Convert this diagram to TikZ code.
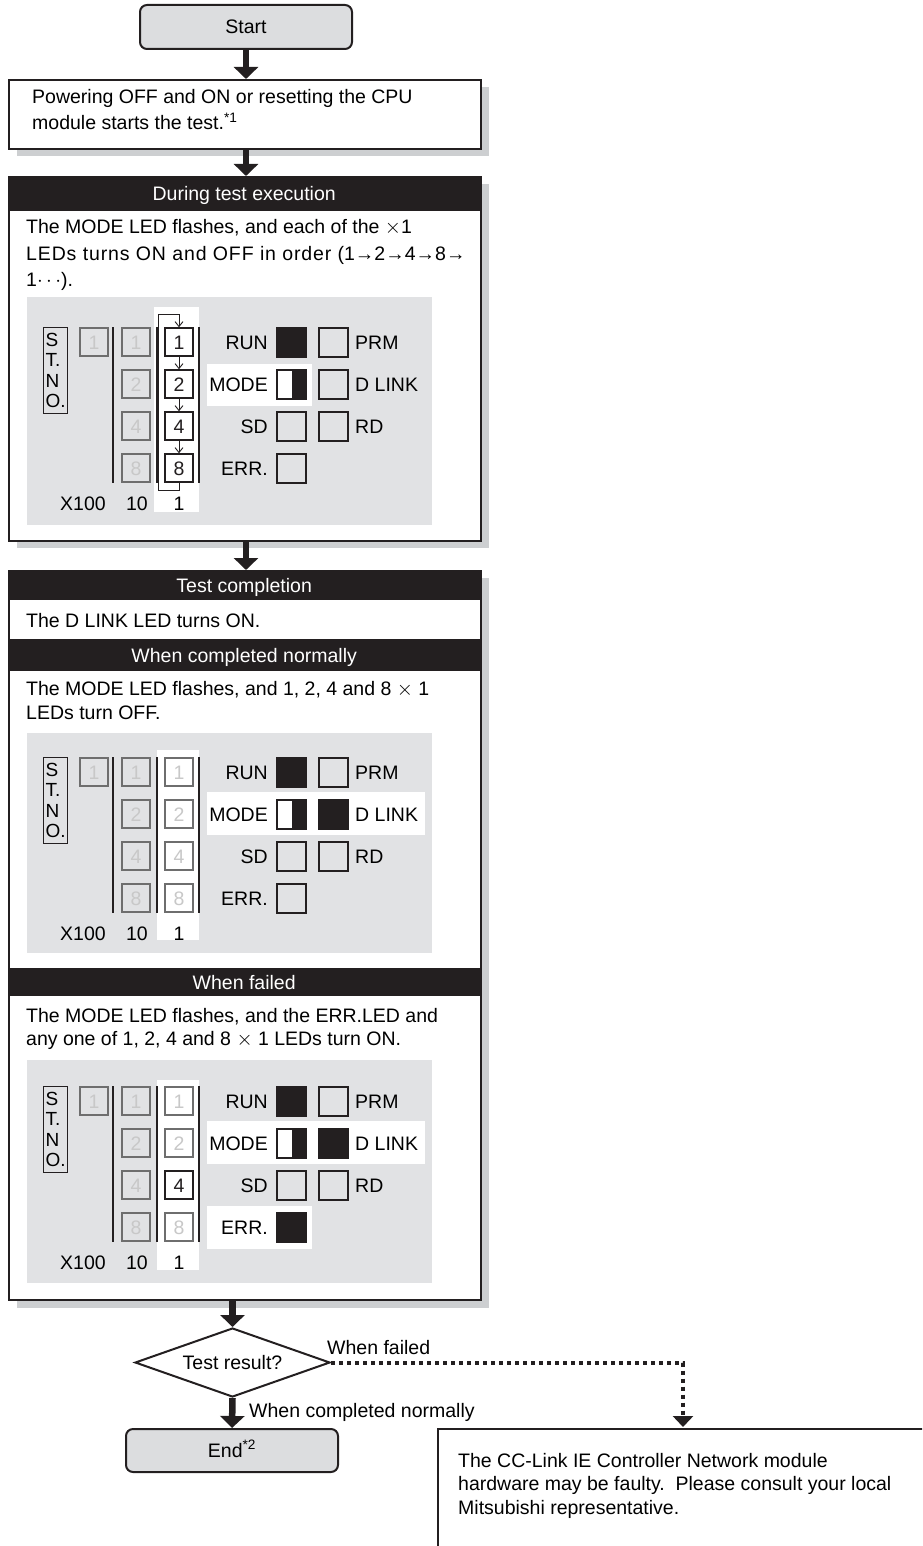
\documentclass[tikz,border=0pt]{standalone}
\usepackage{fontspec}
\setmainfont{Liberation Sans}
\usetikzlibrary{arrows.meta,shapes.geometric}
\definecolor{ink}{HTML}{231F20}
\definecolor{panelgray}{HTML}{E1E2E4}
\definecolor{boxgray}{HTML}{DCDDDF}
\definecolor{shadowgray}{HTML}{CDCFD1}
\definecolor{dimline}{HTML}{6E6E6E}
\definecolor{dimtext}{HTML}{C8C8C8}

\newcommand\panelcore[1]{%
  \node[draw=ink,line width=1.2pt,minimum width=24pt,minimum height=86pt,inner sep=0pt,anchor=north west,align=left,font=\fontsize{19}{20.5}\selectfont] (#1-stno) at (43,-1) {S\\T.\\N\\O.};
  \node[dimled] (#1-h1) at (94,14) {1};
  \node[dimled] (#1-t1) at (136,14) {1};
  \node[dimled] (#1-t2) at (136,56) {2};
  \node[dimled] (#1-t4) at (136,98) {4};
  \node[dimled] (#1-t8) at (136,140) {8};
  \draw[vline] (113,-1) -- (113,155) (157,-1) -- (157,155) (199,-1) -- (199,155);
  \node[lbl] (#1-x100) at (83,182) {X100};
  \node[lbl] (#1-x10) at (137,182) {10};
  \node[lbl] (#1-x1) at (179,182) {1};
  \node[lbl,anchor=base east] (#1-run) at (268,21) {RUN};
  \node[lbl,anchor=base east] (#1-mode) at (268,63) {MODE};
  \node[lbl,anchor=base east] (#1-sd) at (268,105) {SD};
  \node[lbl,anchor=base east] (#1-err) at (268,147) {ERR.};
  \node[lbl,anchor=base west] (#1-prm) at (355,21) {PRM};
  \node[lbl,anchor=base west] (#1-dl) at (355,63) {D LINK};
  \node[lbl,anchor=base west] (#1-rd) at (355,105) {RD};
  \node[ledon] (#1-runsq) at (291.5,14.5) {};
  \node[ledsq,halfon] (#1-modesq) at (291.5,56.5) {};
  \node[ledsq] (#1-sdsq) at (291.5,98.5) {};
  \node[ledsq] (#1-prmsq) at (333.5,14.5) {};
  \node[ledsq] (#1-rdsq) at (333.5,98.5) {};
}

\begin{document}
\begin{tikzpicture}[x=1pt,y=-1pt,
  font=\fontsize{19.5}{24}\selectfont,
  term/.style={draw=ink,line width=2pt,rounded corners=7pt,fill=boxgray,minimum width=212pt,minimum height=44pt,inner sep=0pt,text height=14pt,text depth=0pt},
  blockframe/.style={draw=ink,line width=2pt,fill=white,inner sep=0pt,anchor=north west,minimum width=472pt},
  hdr/.style={fill=ink,text=white,inner sep=0pt,anchor=north west,minimum width=472pt,text height=14pt,text depth=0pt},
  txt/.style={anchor=base west,inner sep=0pt},
  bigarrow/.style={draw=ink,line width=6.5pt,-{Triangle[width=24pt,length=12pt]}},
  dotarrow/.style={draw=ink,line width=4pt,dash pattern=on 4pt off 4pt,-{Triangle[width=20pt,length=11pt]}},
  dimled/.style={draw=dimline,line width=1.2pt,text=dimtext,minimum size=28pt,inner sep=0pt,text height=14pt,text depth=0pt},
  litled/.style={draw=ink,line width=1.4pt,text=ink,minimum size=28pt,inner sep=0pt,text height=14pt,text depth=0pt},
  ledsq/.style={draw=ink,line width=1.4pt,minimum size=29pt,inner sep=0pt},
  ledon/.style={ledsq,fill=ink},
  halfon/.style={fill=white,path picture={\fill[ink] (path picture bounding box.north) rectangle (path picture bounding box.south east);}},
  vline/.style={draw=ink,line width=1.4pt},
  lbl/.style={inner sep=0pt,anchor=base},
  cyc/.style={draw=ink,line width=0.9pt,-{Straight Barb[length=5pt,width=8pt]}},
]
\useasboundingbox (0,0) rectangle (922,1546);
\clip (0,0) rectangle (922,1546);

% Start
\node[term] (start) at (246,27) {Start};

% Box 2
\fill[shadowgray] (17,87) rectangle (489,156);
\node[blockframe,minimum height=69pt] (box2) at (8,79) {};
\node[txt] (box2a) at (32,104) {Powering OFF and ON or resetting the CPU};
\node[txt] (box2b) at (32,130) {module starts the test.\textsuperscript{*1}};

% Block 3
\fill[shadowgray] (17,184) rectangle (489,548);
\node[blockframe,minimum height=364pt] (blk3) at (8,176) {};
\node[hdr,minimum height=35pt] (h3) at (8,176) {During test execution};
\node[txt] (t3a) at (26,234) {The MODE LED flashes, and each of the $\times$1};
\node[txt] (t3b) at (26,260) {{\addfontfeature{LetterSpace=4.5}LEDs turns ON and OFF in order }(1→2→4→8→};
\node[txt] (t3c) at (26,286) {1$\cdots$).};

\begin{scope}[yshift=-328pt]
  \fill[panelgray] (27,-31) rectangle (432,197);
  \fill[white] (154,-21) rectangle (199,184);
  \fill[white] (207,36) rectangle (312,78);
  \panelcore{p1}
  \node[litled] (p1-l1) at (179,14) {1};
  \node[litled] (p1-l2) at (179,56) {2};
  \node[litled] (p1-l4) at (179,98) {4};
  \node[litled] (p1-l8) at (179,140) {8};
  \node[ledsq] (p1-dlsq) at (333.5,56.5) {};
  \node[ledsq] (p1-errsq) at (291.5,140.5) {};
  \draw[cyc] (p1-l1.south) -- (p1-l2.north);
  \draw[cyc] (p1-l2.south) -- (p1-l4.north);
  \draw[cyc] (p1-l4.south) -- (p1-l8.north);
  \coordinate (p1-loopa) at (158,162);
  \coordinate (p1-loopb) at (158,-14);
  \draw[cyc] (p1-l8.south) |- (p1-loopa) -- (p1-loopb) -| (p1-l1.north);
\end{scope}

% Block 4
\fill[shadowgray] (17,578) rectangle (489,1308);
\node[blockframe,minimum height=729pt] (blk4) at (8,570) {};
\node[hdr,minimum height=30pt] (h4) at (8,570) {Test completion};
\node[txt] (t4a) at (26,627) {The D LINK LED turns ON.};
\node[hdr,minimum height=32pt] (h4b) at (8,639) {When completed normally};
\node[txt] (t4b) at (26,695) {The MODE LED flashes, and 1, 2, 4 and 8 $\times$ 1};
\node[txt] (t4c) at (26,719) {LEDs turn OFF.};

\begin{scope}[yshift=-758pt]
  \fill[panelgray] (27,-25) rectangle (432,195);
  \fill[white] (157,-8) rectangle (199,182);
  \fill[white] (207,34) rectangle (425,77);
  \panelcore{p2}
  \node[dimled] (p2-l1) at (179,14) {1};
  \node[dimled] (p2-l2) at (179,56) {2};
  \node[dimled] (p2-l4) at (179,98) {4};
  \node[dimled] (p2-l8) at (179,140) {8};
  \node[ledon] (p2-dlsq) at (333.5,56.5) {};
  \node[ledsq] (p2-errsq) at (291.5,140.5) {};
\end{scope}

\node[hdr,minimum height=28pt] (h4c) at (8,968) {When failed};
\node[txt] (t4d) at (26,1022) {The MODE LED flashes, and the ERR.LED and};
\node[txt] (t4e) at (26,1045) {any one of 1, 2, 4 and 8 $\times$ 1 LEDs turn ON.};

\begin{scope}[yshift=-1087pt]
  \fill[panelgray] (27,-27) rectangle (432,196);
  \fill[white] (157,-7) rectangle (199,183);
  \fill[white] (207,34) rectangle (425,77);
  \fill[white] (207,119) rectangle (312,162);
  \panelcore{p3}
  \node[dimled] (p3-l1) at (179,14) {1};
  \node[dimled] (p3-l2) at (179,56) {2};
  \node[litled] (p3-l4) at (179,98) {4};
  \node[dimled] (p3-l8) at (179,140) {8};
  \node[ledon] (p3-dlsq) at (333.5,56.5) {};
  \node[ledon] (p3-errsq) at (291.5,140.5) {};
\end{scope}

% Arrows between top blocks
\draw[bigarrow] (start.south) -- (box2.north -| start.south);
\draw[bigarrow] (box2.south -| start.south) -- (blk3.north -| start.south);
\draw[bigarrow] (blk3.south -| start.south) -- (blk4.north -| start.south);

% Decision
\node[diamond,draw=ink,line width=2pt,fill=white,minimum width=195pt,minimum height=69pt,inner sep=0pt,aspect=2.83,text height=14pt,text depth=0pt] (dec) at (232.5,1362.5) {Test result?};
\draw[bigarrow] (blk4.south -| dec.north) -- (dec.north);

% End
\node[term,minimum height=43pt] (end) at (232,1450.5) {End\textsuperscript{*2}};
\draw[bigarrow] (dec.south) -- (end.north);
\node[txt] (lblok) at (249,1417) {When completed normally};
\node[txt] (lblfail) at (327,1354) {When failed};

% Failure box
\node[draw=ink,line width=2pt,fill=white,anchor=north west,minimum width=520pt,minimum height=160pt,inner sep=0pt] (cc) at (437,1428) {};
\node[txt] (cc1) at (458,1467) {The CC-Link IE Controller Network module};
\node[txt] (cc2) at (458,1490) {hardware may be faulty.\ \ Please consult your local};
\node[txt] (cc3) at (458,1514) {Mitsubishi representative.};
\coordinate (ccin) at (683,1427);
\draw[dotarrow] (dec.east) -| (ccin);
\end{tikzpicture}
\end{document}
